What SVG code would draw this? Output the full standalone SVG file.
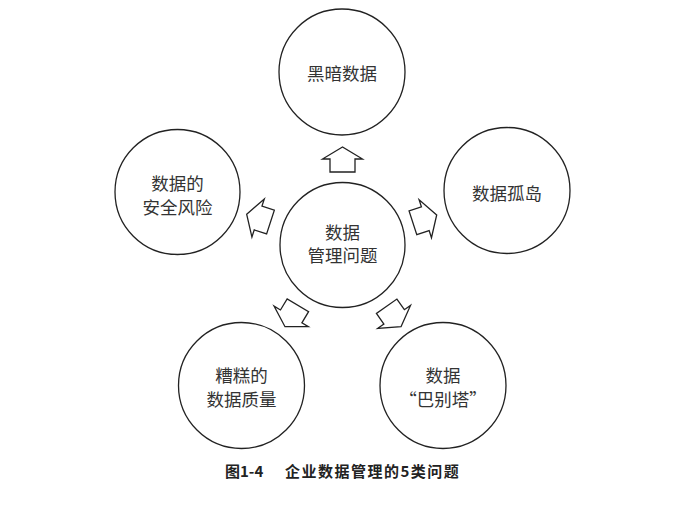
<svg xmlns="http://www.w3.org/2000/svg" xmlns:xlink="http://www.w3.org/1999/xlink" width="678" height="521" viewBox="0 0 678 521">
<style>
.node circle{fill:#fff;stroke:#222;stroke-width:1.3}
.node text{font-family:"Noto Sans CJK SC","Liberation Serif",serif;font-size:17.5px;fill:#333;text-anchor:middle;dominant-baseline:central}
.arrow{fill:#fff;stroke:#222;stroke-width:1.3;stroke-linejoin:miter}
.cap{font-family:"Noto Sans CJK SC","Liberation Sans",sans-serif;font-size:15px;fill:#222;font-weight:bold}
</style>
<defs>
<polygon id="arr" class="arrow" points="0,0 -12,-20 -12,-12.5 -25,-12.5 -25,12.5 -12,12.5 -12,20"/>
</defs>
<rect width="678" height="521" fill="#fff"/>
<g id="connectors">
<use xlink:href="#arr" href="#arr" transform="translate(342.5,147) rotate(-90)"/>
<use xlink:href="#arr" href="#arr" transform="translate(246.7,214.3) rotate(198)"/>
<use xlink:href="#arr" href="#arr" transform="translate(436.7,215) rotate(-18)"/>
<use xlink:href="#arr" href="#arr" transform="translate(285,326.7) rotate(121)"/>
<use xlink:href="#arr" href="#arr" transform="translate(401,326.7) rotate(55)"/>
</g>
<g id="center" class="node">
<circle cx="342.5" cy="245" r="62.5"/>
<text x="342.5" y="231.5">数据</text>
<text x="342.5" y="254.5">管理问题</text>
</g>
<g id="dark-data" class="node">
<circle cx="342" cy="72" r="63"/>
<text x="342" y="72.5">黑暗数据</text>
</g>
<g id="security-risk" class="node">
<circle cx="177.5" cy="192" r="62.5"/>
<text x="177.5" y="182.5">数据的</text>
<text x="177.5" y="206">安全风险</text>
</g>
<g id="data-island" class="node">
<circle cx="507" cy="190.5" r="63"/>
<text x="507" y="192.5">数据孤岛</text>
</g>
<g id="bad-quality" class="node">
<circle cx="241.5" cy="385.5" r="63"/>
<text x="241.5" y="374.5">糟糕的</text>
<text x="241.5" y="398.5">数据质量</text>
</g>
<g id="babel" class="node">
<circle cx="443" cy="385.5" r="63"/>
<text x="443" y="374">数据</text>
<text x="443" y="398">“巴别塔”</text>
</g>
<g id="caption">
<text class="cap" x="225" y="477">图1-4</text>
<text class="cap" x="285" y="477" style="letter-spacing:1.5px">企业数据管理的5类问题</text>
</g>
</svg>
